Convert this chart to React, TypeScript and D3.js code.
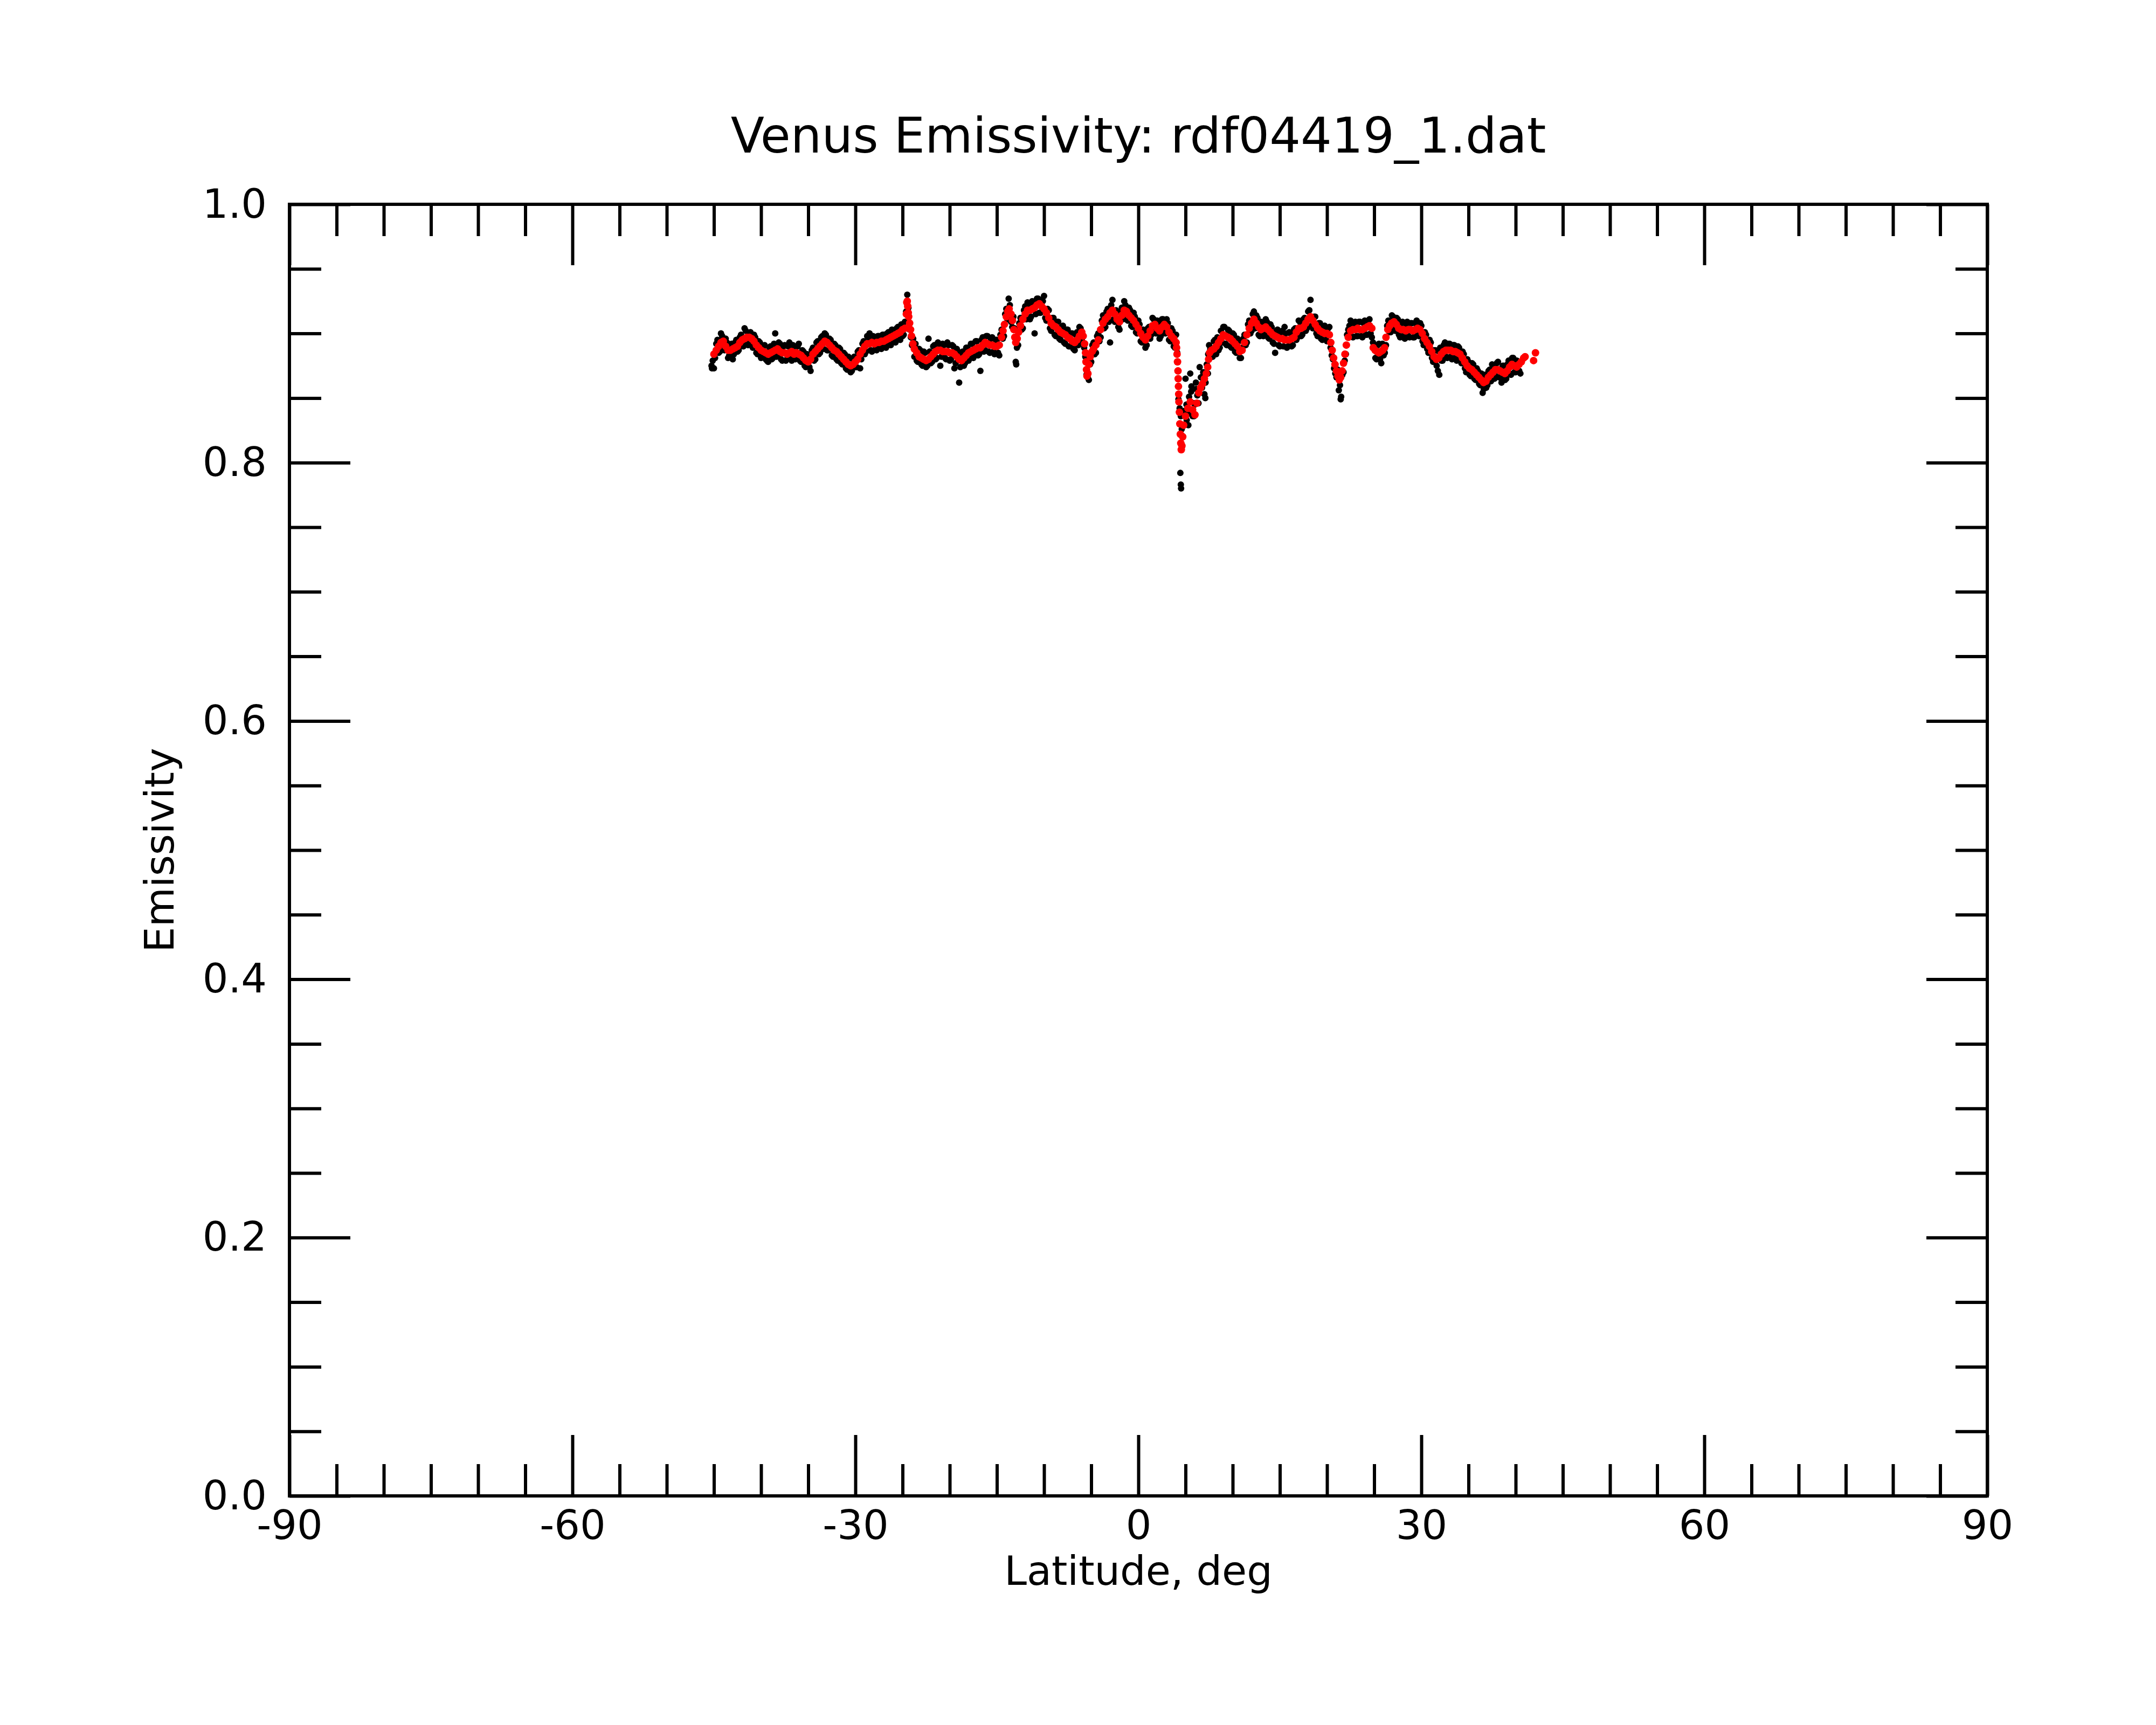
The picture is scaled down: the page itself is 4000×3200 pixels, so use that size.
import { useEffect, useRef } from 'react';
import * as d3 from 'd3';

// axis ticks
const xMajorTicks = [-90, -60, -30, 0, 30, 60, 90];
const yMajorTicks = [0, 0.2, 0.4, 0.6, 0.8, 1.0];
const xMinorStep = 5;
const yMinorStep = 0.05;

// smoothed emissivity (red), [latitude, emissivity]
const redPoints: [number, number][] = [
  [-45.0, 0.884], [-44.75, 0.887], [-44.5, 0.89], [-44.25, 0.893], [-44.0, 0.894], [-43.75, 0.89],
  [-43.5, 0.887], [-43.25, 0.887], [-43.0, 0.888], [-42.75, 0.889], [-42.5, 0.89], [-42.25, 0.893],
  [-42.0, 0.895], [-41.75, 0.896], [-41.5, 0.897], [-41.25, 0.897], [-41.0, 0.896], [-40.75, 0.894],
  [-40.5, 0.891], [-40.25, 0.889], [-40.0, 0.887], [-39.75, 0.886], [-39.5, 0.885], [-39.25, 0.884],
  [-39.0, 0.885], [-38.75, 0.886], [-38.5, 0.887], [-38.25, 0.888], [-38.0, 0.886], [-37.75, 0.885],
  [-37.5, 0.885], [-37.25, 0.884], [-37.0, 0.885], [-36.75, 0.886], [-36.5, 0.884], [-36.25, 0.885],
  [-36.0, 0.884], [-35.75, 0.883], [-35.5, 0.881], [-35.25, 0.879], [-35.0, 0.878], [-34.75, 0.88],
  [-34.5, 0.884], [-34.25, 0.886], [-34.0, 0.888], [-33.75, 0.89], [-33.5, 0.892], [-33.25, 0.894],
  [-33.0, 0.893], [-32.75, 0.891], [-32.5, 0.889], [-32.25, 0.887], [-32.0, 0.886], [-31.75, 0.884],
  [-31.5, 0.882], [-31.25, 0.88], [-31.0, 0.878], [-30.75, 0.876], [-30.5, 0.875], [-30.25, 0.876],
  [-30.0, 0.878], [-29.75, 0.88], [-29.5, 0.884], [-29.25, 0.887], [-29.0, 0.89], [-28.75, 0.892],
  [-28.5, 0.892], [-28.25, 0.893], [-28.0, 0.892], [-27.75, 0.893], [-27.5, 0.893], [-27.25, 0.894],
  [-27.0, 0.894], [-26.75, 0.895], [-26.5, 0.896], [-26.25, 0.897], [-26.0, 0.898], [-25.75, 0.899],
  [-25.5, 0.9], [-25.25, 0.901], [-25.0, 0.903], [-24.75, 0.904], [-24.6, 0.915], [-24.55, 0.924],
  [-24.5, 0.925], [-24.45, 0.921], [-24.4, 0.916], [-24.35, 0.913], [-24.25, 0.908], [-24.15, 0.903],
  [-24.05, 0.898], [-23.9, 0.892], [-23.75, 0.888], [-23.5, 0.885], [-23.25, 0.882], [-23.0, 0.881],
  [-22.75, 0.88], [-22.5, 0.879], [-22.25, 0.88], [-22.0, 0.882], [-21.75, 0.884], [-21.5, 0.886],
  [-21.25, 0.887], [-21.0, 0.887], [-20.75, 0.886], [-20.5, 0.886], [-20.25, 0.886], [-20.0, 0.885],
  [-19.75, 0.885], [-19.5, 0.884], [-19.25, 0.882], [-19.0, 0.88], [-18.75, 0.879], [-18.5, 0.881],
  [-18.25, 0.883], [-18.0, 0.885], [-17.75, 0.886], [-17.5, 0.887], [-17.25, 0.888], [-17.0, 0.889],
  [-16.75, 0.889], [-16.5, 0.891], [-16.25, 0.893], [-16.0, 0.892], [-15.75, 0.891], [-15.5, 0.891],
  [-15.25, 0.89], [-15.0, 0.89], [-14.75, 0.891], [-14.5, 0.897], [-14.35, 0.902], [-14.2, 0.907],
  [-14.0, 0.913], [-13.85, 0.917], [-13.7, 0.919], [-13.5, 0.915], [-13.35, 0.91], [-13.2, 0.903],
  [-13.1, 0.897], [-13.0, 0.893], [-12.85, 0.896], [-12.7, 0.901], [-12.5, 0.906], [-12.25, 0.911],
  [-12.0, 0.915], [-11.75, 0.918], [-11.5, 0.918], [-11.25, 0.919], [-11.0, 0.92], [-10.75, 0.922],
  [-10.5, 0.923], [-10.25, 0.921], [-10.0, 0.919], [-9.75, 0.916], [-9.5, 0.912], [-9.25, 0.908],
  [-9.0, 0.906], [-8.75, 0.905], [-8.5, 0.903], [-8.25, 0.901], [-8.0, 0.9], [-7.75, 0.899],
  [-7.5, 0.897], [-7.25, 0.896], [-7.0, 0.894], [-6.75, 0.893], [-6.5, 0.895], [-6.25, 0.898],
  [-6.0, 0.901], [-5.85, 0.898], [-5.7, 0.892], [-5.6, 0.885], [-5.55, 0.878], [-5.5, 0.872],
  [-5.45, 0.867], [-5.35, 0.869], [-5.25, 0.876], [-5.1, 0.882], [-4.9, 0.886], [-4.75, 0.888],
  [-4.5, 0.891], [-4.25, 0.895], [-4.0, 0.903], [-3.75, 0.908], [-3.5, 0.911], [-3.25, 0.913],
  [-3.0, 0.916], [-2.75, 0.918], [-2.5, 0.915], [-2.25, 0.911], [-2.0, 0.909], [-1.75, 0.914],
  [-1.5, 0.918], [-1.25, 0.917], [-1.0, 0.914], [-0.75, 0.912], [-0.5, 0.91], [-0.25, 0.907],
  [0.0, 0.904], [0.25, 0.9], [0.5, 0.897], [0.75, 0.895], [1.0, 0.898], [1.25, 0.902],
  [1.5, 0.906], [1.75, 0.907], [2.0, 0.904], [2.25, 0.902], [2.5, 0.905], [2.75, 0.907],
  [3.0, 0.905], [3.25, 0.901], [3.5, 0.898], [3.75, 0.896], [4.0, 0.893], [4.05, 0.889],
  [4.1, 0.884], [4.15, 0.878], [4.2, 0.871], [4.22, 0.865], [4.25, 0.859], [4.28, 0.853],
  [4.3, 0.847], [4.35, 0.839], [4.4, 0.83], [4.45, 0.822], [4.5, 0.815], [4.55, 0.81],
  [4.62, 0.813], [4.7, 0.82], [4.8, 0.829], [5.0, 0.836], [5.25, 0.842], [5.5, 0.847],
  [5.75, 0.841], [6.0, 0.837], [6.2, 0.846], [6.4, 0.854], [6.6, 0.858], [6.8, 0.861],
  [7.0, 0.865], [7.2, 0.869], [7.35, 0.874], [7.45, 0.88], [7.55, 0.885], [7.75, 0.887],
  [8.0, 0.888], [8.25, 0.89], [8.5, 0.893], [8.75, 0.896], [9.0, 0.899], [9.25, 0.898],
  [9.5, 0.897], [9.75, 0.896], [10.0, 0.894], [10.25, 0.892], [10.5, 0.89], [10.75, 0.886],
  [11.0, 0.887], [11.25, 0.893], [11.5, 0.899], [11.75, 0.904], [12.0, 0.908], [12.25, 0.911],
  [12.5, 0.908], [12.75, 0.905], [13.0, 0.903], [13.25, 0.904], [13.5, 0.905], [13.75, 0.903],
  [14.0, 0.901], [14.25, 0.899], [14.5, 0.898], [14.75, 0.897], [15.0, 0.896], [15.25, 0.896],
  [15.5, 0.895], [15.75, 0.895], [16.0, 0.895], [16.25, 0.896], [16.5, 0.897], [16.75, 0.901],
  [17.0, 0.904], [17.25, 0.904], [17.5, 0.905], [17.75, 0.908], [18.0, 0.911], [18.25, 0.913],
  [18.5, 0.91], [18.75, 0.907], [19.0, 0.904], [19.25, 0.902], [19.5, 0.901], [19.75, 0.9],
  [20.0, 0.9], [20.25, 0.899], [20.4, 0.893], [20.55, 0.887], [20.7, 0.881], [20.85, 0.876],
  [21.0, 0.871], [21.15, 0.867], [21.3, 0.864], [21.45, 0.866], [21.6, 0.871], [21.75, 0.877],
  [21.9, 0.884], [22.05, 0.891], [22.25, 0.897], [22.5, 0.902], [22.75, 0.903], [23.0, 0.903],
  [23.25, 0.904], [23.5, 0.903], [23.75, 0.903], [24.0, 0.904], [24.25, 0.905], [24.5, 0.906],
  [24.75, 0.904], [24.9, 0.889], [25.1, 0.887], [25.3, 0.886], [25.5, 0.885], [25.7, 0.886],
  [25.9, 0.887], [26.1, 0.889], [26.25, 0.897], [26.45, 0.903], [26.65, 0.906], [26.85, 0.908],
  [27.1, 0.909], [27.35, 0.907], [27.6, 0.904], [27.85, 0.903], [28.1, 0.903], [28.35, 0.902],
  [28.6, 0.903], [28.85, 0.903], [29.1, 0.902], [29.35, 0.903], [29.6, 0.904], [29.85, 0.903],
  [30.1, 0.9], [30.35, 0.896], [30.6, 0.893], [30.85, 0.89], [31.1, 0.886], [31.35, 0.882],
  [31.6, 0.88], [31.85, 0.881], [32.1, 0.884], [32.35, 0.886], [32.6, 0.887], [32.85, 0.887],
  [33.1, 0.887], [33.35, 0.886], [33.6, 0.886], [33.85, 0.885], [34.1, 0.884], [34.35, 0.881],
  [34.6, 0.878], [34.85, 0.875], [35.1, 0.873], [35.35, 0.872], [35.6, 0.87], [35.85, 0.868],
  [36.1, 0.866], [36.35, 0.864], [36.6, 0.862], [36.85, 0.863], [37.1, 0.866], [37.35, 0.868],
  [37.6, 0.87], [37.85, 0.872], [38.1, 0.872], [38.35, 0.871], [38.6, 0.87], [38.85, 0.869],
  [39.1, 0.871], [39.35, 0.874], [39.6, 0.876], [39.85, 0.875], [40.1, 0.874], [40.35, 0.876],
  [40.6, 0.878], [40.85, 0.881], [41.0, 0.882], [41.9, 0.879], [42.1, 0.885],
];

// raw emissivity (black), first pass: every 0.25 deg from -45.25
const blackStartA = -45.25;
const blackStep = 0.25;
const blackValuesA = [
  0.875, 0.873, 0.892, 0.885, 0.9, 0.889, 0.896, 0.881, 0.891, 0.88, 0.893, 0.886,
  0.897, 0.891, 0.904, 0.893, 0.9, 0.891, 0.899, 0.885, 0.894, 0.881, 0.89, 0.88,
  0.878, 0.89, 0.881, 0.9, 0.883, 0.892, 0.879, 0.891, 0.88, 0.893, 0.879, 0.89,
  0.881, 0.892, 0.878, 0.886, 0.874, 0.883, 0.871, 0.889, 0.88, 0.894, 0.885, 0.898,
  0.9, 0.887, 0.896, 0.883, 0.892, 0.88, 0.889, 0.877, 0.885, 0.873, 0.882, 0.87,
  0.88, 0.874, 0.886, 0.873, 0.892, 0.884, 0.898, 0.9, 0.886, 0.897, 0.887, 0.898,
  0.888, 0.899, 0.889, 0.901, 0.891, 0.902, 0.893, 0.905, 0.895, 0.898, 0.909, 0.93,
  0.903, 0.891, 0.882, 0.879, 0.888, 0.876, 0.886, 0.874, 0.896, 0.877, 0.89, 0.88,
  0.893, 0.875, 0.892, 0.881, 0.893, 0.879, 0.891, 0.873, 0.888, 0.862, 0.885, 0.875,
  0.889, 0.879, 0.892, 0.881, 0.894, 0.883, 0.871, 0.897, 0.887, 0.898, 0.885, 0.897,
  0.884, 0.895, 0.883, 0.903, 0.898, 0.919, 0.927, 0.909, 0.913, 0.878, 0.891, 0.912,
  0.904, 0.921, 0.924, 0.911, 0.925, 0.9, 0.927, 0.916, 0.926, 0.929, 0.91, 0.918,
  0.902, 0.912, 0.898, 0.909, 0.895, 0.906, 0.892, 0.903, 0.89, 0.9, 0.887, 0.901,
  0.905, 0.895, 0.889, 0.868, 0.864, 0.878, 0.893, 0.885, 0.9, 0.897, 0.914, 0.905,
  0.919, 0.893, 0.926, 0.909, 0.917, 0.903, 0.92, 0.925, 0.911, 0.92, 0.906, 0.916,
  0.901, 0.91, 0.894, 0.903, 0.889, 0.904, 0.896, 0.912, 0.901, 0.91, 0.896, 0.911,
  0.901, 0.911, 0.895, 0.904, 0.89, 0.899, 0.849, 0.836, 0.829, 0.865, 0.838, 0.869,
  0.836, 0.845, 0.852, 0.874, 0.858, 0.853, 0.876, 0.891, 0.882, 0.894, 0.884, 0.887,
  0.902, 0.905, 0.892, 0.903, 0.89, 0.9, 0.886, 0.896, 0.881, 0.889, 0.899, 0.893,
  0.91, 0.902, 0.917, 0.914, 0.899, 0.909, 0.898, 0.911, 0.897, 0.907, 0.893, 0.885,
  0.903, 0.89, 0.902, 0.905, 0.889, 0.901, 0.89, 0.903, 0.895, 0.91, 0.898, 0.911,
  0.902, 0.917, 0.926, 0.904, 0.913, 0.898, 0.908, 0.895, 0.906, 0.894, 0.905, 0.883,
  0.873, 0.866, 0.856, 0.851, 0.87, 0.884, 0.903, 0.91, 0.897, 0.909, 0.898, 0.909,
  0.897, 0.91, 0.899, 0.911, 0.897, 0.891, 0.88, 0.892, 0.877, 0.883, 0.891, 0.91,
  0.901, 0.913, 0.902, 0.911, 0.897, 0.909, 0.896, 0.909, 0.897, 0.908, 0.897, 0.91,
  0.898, 0.906, 0.891, 0.899, 0.885, 0.893, 0.878, 0.887, 0.871, 0.889, 0.879, 0.893,
  0.881, 0.892, 0.88, 0.891, 0.879, 0.889, 0.877, 0.884, 0.87, 0.878, 0.867, 0.876,
  0.864, 0.871, 0.86, 0.854, 0.868, 0.86, 0.872, 0.876, 0.865, 0.877, 0.866, 0.862,
  0.875, 0.865, 0.879, 0.868, 0.881, 0.87, 0.878, 0.869,
];

// raw emissivity (black), second pass: every 0.25 deg from -45.125 (one row per degree)
const blackStartB = -45.125;
const blackValuesB = [
  0.879, 0.881, 0.895, 0.886,
  0.898, 0.887, 0.893, 0.883,
  0.892, 0.884, 0.895, 0.887,
  0.899, 0.89, 0.902, 0.891,
  0.901, 0.889, 0.897, 0.884,
  0.893, 0.882, 0.891, 0.879,
  0.889, 0.88, 0.892, 0.882,
  0.893, 0.88, 0.89, 0.879,
  0.89, 0.881, 0.891, 0.88,
  0.89, 0.879, 0.887, 0.875,
  0.884, 0.874, 0.887, 0.879,
  0.893, 0.884, 0.897, 0.888,
  0.899, 0.887, 0.895, 0.882,
  0.891, 0.879, 0.888, 0.876,
  0.884, 0.872, 0.881, 0.871,
  0.882, 0.874, 0.887, 0.88,
  0.894, 0.886, 0.897, 0.887,
  0.898, 0.888, 0.898, 0.889,
  0.899, 0.89, 0.9, 0.892,
  0.903, 0.894, 0.904, 0.896,
  0.907, 0.899, 0.917, 0.92,
  0.897, 0.896, 0.892, 0.878,
  0.887, 0.875, 0.885, 0.875,
  0.886, 0.878, 0.891, 0.881,
  0.892, 0.882, 0.891, 0.88,
  0.891, 0.88, 0.89, 0.877,
  0.886, 0.874, 0.886, 0.877,
  0.889, 0.881, 0.892, 0.883,
  0.894, 0.884, 0.895, 0.886,
  0.898, 0.886, 0.896, 0.886,
  0.895, 0.885, 0.899, 0.896,
  0.915, 0.911, 0.922, 0.905,
  0.904, 0.889, 0.908, 0.903,
  0.918, 0.911, 0.923, 0.913,
  0.924, 0.915, 0.927, 0.916,
  0.925, 0.912, 0.919, 0.904,
  0.912, 0.899, 0.909, 0.896,
  0.905, 0.893, 0.903, 0.89,
  0.9, 0.888, 0.899, 0.891,
  0.904, 0.893, 0.882, 0.866,
  0.876, 0.891, 0.884, 0.898,
  0.894, 0.91, 0.904, 0.917,
  0.909, 0.922, 0.911, 0.918,
  0.905, 0.916, 0.911, 0.922,
  0.91, 0.918, 0.905, 0.913,
  0.9, 0.907, 0.893, 0.901,
  0.891, 0.905, 0.899, 0.911,
  0.9, 0.908, 0.898, 0.911,
  0.9, 0.908, 0.894, 0.902,
  0.889, 0.885, 0.842, 0.821,
  0.84, 0.833, 0.851, 0.859,
  0.846, 0.857, 0.846, 0.866,
  0.87, 0.862, 0.869, 0.888,
  0.882, 0.895, 0.897, 0.889,
  0.893, 0.905, 0.891, 0.902,
  0.889, 0.899, 0.885, 0.894,
  0.881, 0.896, 0.891, 0.907,
  0.9, 0.915, 0.904, 0.912,
  0.898, 0.908, 0.899, 0.909,
  0.896, 0.905, 0.892, 0.902,
  0.891, 0.901, 0.89, 0.9,
  0.89, 0.9, 0.891, 0.904,
  0.897, 0.909, 0.899, 0.912,
  0.904, 0.918, 0.906, 0.913,
  0.9, 0.908, 0.896, 0.905,
  0.895, 0.904, 0.889, 0.88,
  0.869, 0.872, 0.86, 0.868,
  0.879, 0.899, 0.906, 0.898,
  0.908, 0.898, 0.909, 0.898,
  0.908, 0.899, 0.91, 0.9,
  0.893, 0.881, 0.891, 0.88,
  0.892, 0.885, 0.906, 0.901,
  0.914, 0.904, 0.912, 0.899,
  0.908, 0.898, 0.907, 0.898,
  0.908, 0.897, 0.908, 0.899,
  0.908, 0.894, 0.901, 0.888,
  0.895, 0.881, 0.887, 0.875,
  0.886, 0.879, 0.891, 0.882,
  0.892, 0.882, 0.891, 0.881,
  0.89, 0.879, 0.886, 0.873,
  0.88, 0.868, 0.877, 0.865,
  0.873, 0.861, 0.869, 0.857,
  0.858, 0.871, 0.863, 0.875,
  0.867, 0.878, 0.866, 0.875,
  0.864, 0.876, 0.869, 0.881,
  0.87, 0.879, 0.871,
];

// scattered raw points away from the band
const blackExtra: [number, number][] = [
  [4.45, 0.792], [4.5, 0.783], [4.53, 0.78], [4.6, 0.826], [4.9, 0.838], [5.1, 0.845],
  [5.3, 0.829], [5.6, 0.855], [5.9, 0.836], [6.1, 0.862], [6.9, 0.868], [7.1, 0.85],
  [7.4, 0.884], [-12.95, 0.876], [21.45, 0.849], [31.9, 0.868], [-45.2, 0.873],
];

const WIDTH = 4000;
const HEIGHT = 3200;
const margin = { top: 379, right: 313, bottom: 425, left: 537 };
const FONT = 'DejaVu Sans, sans-serif';

export default function App() {
  const svgRef = useRef<SVGSVGElement>(null);

  useEffect(() => {
    if (!svgRef.current) return;
    const svg = d3.select(svgRef.current);
    svg.selectAll('*').remove();

    const left = margin.left;
    const right = WIDTH - margin.right;
    const top = margin.top;
    const bottom = HEIGHT - margin.bottom;

    const x = d3.scaleLinear().domain([-90, 90]).range([left, right]);
    const y = d3.scaleLinear().domain([0, 1]).range([bottom, top]);

    const xMinor = d3.range(-90, 90.001, xMinorStep).filter((v) => !xMajorTicks.includes(v));
    const yMinor = d3
      .range(0, 1.0001, yMinorStep)
      .map((v) => +v.toFixed(2))
      .filter((v) => !yMajorTicks.some((t) => Math.abs(t - v) < 1e-6));

    const styleAxis = (g: d3.Selection<SVGGElement, unknown, null, undefined>) => {
      g.select('.domain').remove();
      g.selectAll('line').attr('stroke', '#000').attr('stroke-width', 6);
      g.selectAll('text')
        .attr('fill', '#000')
        .style('font-family', FONT)
        .style('font-size', '75px');
    };

    // bottom
    svg.append('g')
      .attr('transform', `translate(0,${bottom})`)
      .call(d3.axisBottom(x).tickValues(xMinor).tickSize(-59).tickSizeOuter(0).tickFormat(() => ''))
      .call(styleAxis);
    svg.append('g')
      .attr('transform', `translate(0,${bottom})`)
      .call(
        d3.axisBottom(x).tickValues(xMajorTicks).tickSize(-113).tickSizeOuter(0)
          .tickPadding(27).tickFormat((d) => String(d))
      )
      .call(styleAxis);
    // top
    svg.append('g')
      .attr('transform', `translate(0,${top})`)
      .call(d3.axisTop(x).tickValues(xMinor).tickSize(-59).tickSizeOuter(0).tickFormat(() => ''))
      .call(styleAxis);
    svg.append('g')
      .attr('transform', `translate(0,${top})`)
      .call(d3.axisTop(x).tickValues(xMajorTicks).tickSize(-113).tickSizeOuter(0).tickFormat(() => ''))
      .call(styleAxis);
    // left
    svg.append('g')
      .attr('transform', `translate(${left},0)`)
      .call(d3.axisLeft(y).tickValues(yMinor).tickSize(-59).tickSizeOuter(0).tickFormat(() => ''))
      .call(styleAxis);
    svg.append('g')
      .attr('transform', `translate(${left},0)`)
      .call(
        d3.axisLeft(y).tickValues(yMajorTicks).tickSize(-113).tickSizeOuter(0)
          .tickPadding(42).tickFormat(d3.format('.1f'))
      )
      .call(styleAxis);
    // right
    svg.append('g')
      .attr('transform', `translate(${right},0)`)
      .call(d3.axisRight(y).tickValues(yMinor).tickSize(-59).tickSizeOuter(0).tickFormat(() => ''))
      .call(styleAxis);
    svg.append('g')
      .attr('transform', `translate(${right},0)`)
      .call(d3.axisRight(y).tickValues(yMajorTicks).tickSize(-113).tickSizeOuter(0).tickFormat(() => ''))
      .call(styleAxis);

    svg.append('rect')
      .attr('x', left)
      .attr('y', top)
      .attr('width', right - left)
      .attr('height', bottom - top)
      .attr('fill', 'none')
      .attr('stroke', '#000')
      .attr('stroke-width', 6);

    const toPairs = (start: number, values: number[]) =>
      values.map((v, i) => [start + i * blackStep, v] as [number, number]);

    const black: [number, number][] = toPairs(blackStartA, blackValuesA)
      .concat(toPairs(blackStartB, blackValuesB))
      .concat(blackExtra);

    svg.append('g')
      .selectAll('circle')
      .data(black)
      .enter()
      .append('circle')
      .attr('cx', (d) => x(d[0]))
      .attr('cy', (d) => y(d[1]))
      .attr('r', 6)
      .attr('fill', '#000');

    svg.append('g')
      .selectAll('circle')
      .data(redPoints)
      .enter()
      .append('circle')
      .attr('cx', (d) => x(d[0]))
      .attr('cy', (d) => y(d[1]))
      .attr('r', 7)
      .attr('fill', '#ff0000');

    const cx = (left + right) / 2;
    const cy = (top + bottom) / 2;

    svg.append('text')
      .attr('x', cx)
      .attr('y', 283)
      .attr('text-anchor', 'middle')
      .style('font-family', FONT)
      .style('font-size', '91px')
      .text('Venus Emissivity: rdf04419_1.dat');

    svg.append('text')
      .attr('x', cx)
      .attr('y', 2940)
      .attr('text-anchor', 'middle')
      .style('font-family', FONT)
      .style('font-size', '75px')
      .text('Latitude, deg');

    svg.append('text')
      .attr('transform', `translate(322,${cy}) rotate(-90)`)
      .attr('text-anchor', 'middle')
      .style('font-family', FONT)
      .style('font-size', '75px')
      .text('Emissivity');
  }, []);

  return (
    <div style={{ position: 'absolute', left: 0, top: 0 }}>
      <svg ref={svgRef} width={WIDTH} height={HEIGHT} style={{ display: 'block', background: '#fff' }} />
    </div>
  );
}
